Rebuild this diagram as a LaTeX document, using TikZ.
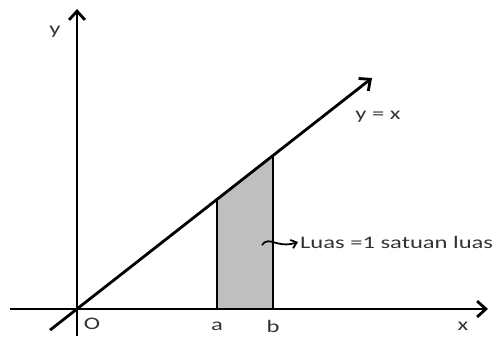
\documentclass[tikz,border=0pt]{standalone}
\usepackage{fontspec}
\setmainfont{Carlito}[FakeStretch=1.4]
\usetikzlibrary{arrows.meta}
\begin{document}
\begin{tikzpicture}[x=0.02cm,y=0.02cm,
  axis/.style={line width=1.6pt,-{Straight Barb[length=5pt,width=9pt,line width=1.6pt]}},
  edge/.style={line width=1.6pt},
  lbl/.style={font=\fontsize{10}{12}\selectfont,text=black!80,inner sep=1pt}]
\useasboundingbox (-77,-27) rectangle (417,309);

\coordinate (O) at (0,0);
\coordinate (xs) at (-67,0);
\coordinate (xe) at (411,0);
\coordinate (ys) at (0,-27);
\coordinate (ye) at (0,300);
\coordinate (ls) at (-27,-21.1);
\coordinate (le) at (295,231);
\coordinate (a0) at (140,0);
\coordinate (a1) at (140,109.6);
\coordinate (b0) at (196,0);
\coordinate (b1) at (196,153.5);

% shaded area
\fill[black!25] (a0) -- (a1) -- (b1) -- (b0) -- cycle;

\draw[axis] (xs) -- (xe);
\draw[axis] (ys) -- (ye);
\draw[axis] (ls) -- (le);
\draw[edge] (a0) -- (a1);
\draw[edge] (b0) -- (b1);

\node[lbl] (ylab) at (-22,277) {y};
\node[lbl] (olab) at (15,-15) {O};
\node[lbl] (alab) at (140,-17) {a};
\node[lbl] (blab) at (196,-17) {b};
\node[lbl] (xlab) at (386,-17) {x};
\node[lbl] (fx) at (301,192) {y = x};
\node[lbl,anchor=west] (luas) at (221,67) {Luas =1 satuan luas};

\coordinate (sq) at (185,64);
\draw[line width=1pt,-{Straight Barb[length=3pt,width=5pt]}] (sq) .. controls (192,74) and (200,60) .. (luas.west);
\end{tikzpicture}
\end{document}
